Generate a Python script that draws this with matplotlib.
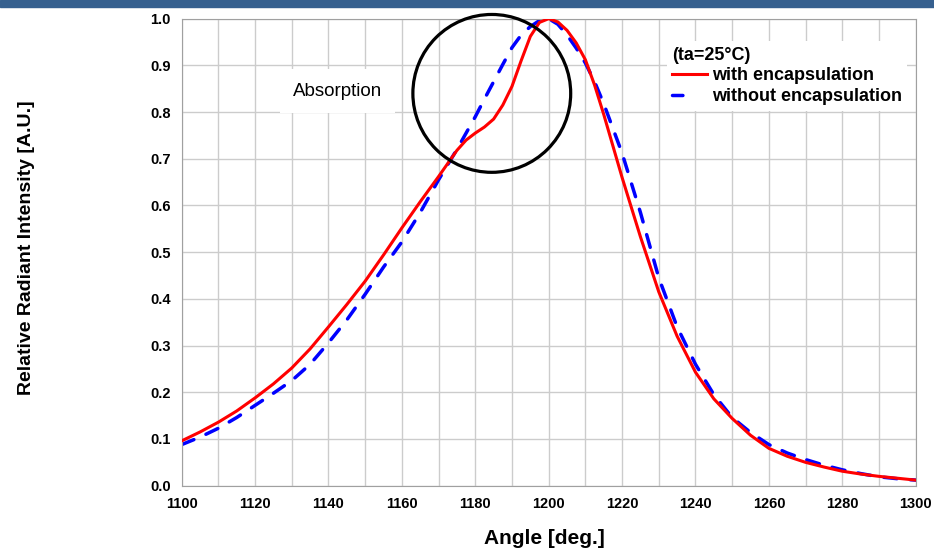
import matplotlib
matplotlib.use("Agg")
import matplotlib.pyplot as plt
from matplotlib.patches import Ellipse, Rectangle
from matplotlib.lines import Line2D
import numpy as np

plt.rcParams['font.family'] = ['Liberation Sans', 'DejaVu Sans']

# angle [deg.]
angle = [1100, 1105, 1110, 1115, 1120, 1125, 1130, 1135, 1140, 1145,
         1150, 1155, 1160, 1165, 1170, 1175, 1177.5, 1180, 1182.5, 1185,
         1187.5, 1190, 1192.5, 1195, 1197.5, 1200, 1202.5, 1205, 1207.5, 1210,
         1212.5, 1215, 1220, 1225, 1230, 1235, 1240, 1245,
         1250, 1255, 1260, 1265, 1270, 1275, 1280, 1285, 1290, 1295, 1300]

with_enc = [0.096, 0.115, 0.136, 0.160, 0.188, 0.218, 0.252, 0.293, 0.340, 0.388,
            0.438, 0.494, 0.552, 0.608, 0.662, 0.718, 0.740, 0.755, 0.768, 0.785,
            0.815, 0.855, 0.910, 0.962, 0.992, 1.000, 0.993, 0.975, 0.948, 0.912,
            0.858, 0.795, 0.660, 0.533, 0.415, 0.320, 0.243, 0.186,
            0.144, 0.108, 0.080, 0.063, 0.050, 0.040, 0.031, 0.025, 0.020, 0.016, 0.012]

without_enc = [0.088, 0.104, 0.123, 0.146, 0.172, 0.198, 0.225, 0.260, 0.306, 0.355,
               0.410, 0.468, 0.522, 0.585, 0.655, 0.720, 0.755, 0.790, 0.828, 0.865,
               0.902, 0.938, 0.965, 0.983, 0.996, 1.000, 0.988, 0.965, 0.937, 0.905,
               0.865, 0.818, 0.712, 0.585, 0.445, 0.340, 0.260, 0.195,
               0.146, 0.114, 0.088, 0.070, 0.056, 0.044, 0.034, 0.026, 0.019, 0.015, 0.012]

fig = plt.figure(figsize=(9.34, 5.49), dpi=100)
ax = fig.add_axes([0.1945, 0.1153, 0.7859, 0.8507])

# dark blue strip at the top
fig.patches.append(Rectangle((0, 0.987), 1, 0.013, transform=fig.transFigure,
                             color='#36608f', zorder=0))

ax.plot(angle, with_enc, color='#ff0000', lw=2.2, zorder=3)
ax.plot(angle, without_enc, color='#0000ff', lw=2.5, ls=(0, (3.8, 3.8)),
        dash_capstyle='round', zorder=2)

ax.set_xlim(1100, 1300)
ax.set_ylim(0, 1.0)
ax.set_xticks(np.arange(1100, 1301, 20))
ax.set_xticks(np.arange(1100, 1301, 10), minor=True)
ax.set_yticks(np.arange(0, 1.01, 0.1))
ax.set_yticklabels([f"{v:.1f}" for v in np.arange(0, 1.01, 0.1)])
ax.grid(True, which='both', color='#cccccc', lw=1.0)
ax.set_axisbelow(True)
ax.tick_params(which='both', length=0)
ax.tick_params(axis='x', pad=8)
ax.tick_params(axis='y', pad=8)
for lab in ax.get_xticklabels() + ax.get_yticklabels():
    lab.set_fontsize(10.5)
    lab.set_fontweight('bold')
for s in ax.spines.values():
    s.set_color('#a0a0a0')

ax.set_xlabel("Angle [deg.]", fontsize=15, fontweight='bold')
ax.xaxis.set_label_coords(0.494, -0.093)
ax.xaxis.label.set_va('top')
ax.set_ylabel("Relative Radiant Intensity [A.U.]", fontsize=14, fontweight='bold')
ax.yaxis.set_label_coords(-0.212, 0.51)
ax.yaxis.label.set_va('center')

# absorption marker
ax.add_patch(Ellipse((1184.5, 0.840), 43.0, 0.338, fill=False, ec='black',
                     lw=2.3, clip_on=False, zorder=4))
ax.text(1142.5, 0.845, "Absorption", fontsize=13.5, ha='center', va='center',
        bbox=dict(boxstyle='square,pad=0.7', fc='white', ec='none'), zorder=3)

handles = [Line2D([], [], color='#ff0000', lw=2.2),
           Line2D([], [], color='#0000ff', lw=2.5, ls=(0, (3.0, 12)),
                  dash_capstyle='round')]
leg = ax.legend(handles, ["with encapsulation", "without encapsulation"],
                title="(ta=25°C)", loc='upper left', bbox_to_anchor=(0.661, 0.952),
                borderaxespad=0, frameon=True, fancybox=False, framealpha=1,
                edgecolor='none', prop={'weight': 'bold', 'size': 13},
                title_fontproperties={'weight': 'bold', 'size': 13},
                handlelength=1.9, handletextpad=0.3, labelspacing=0.22,
                borderpad=0.3, alignment='left')

fig.savefig("out.png", dpi=100)
